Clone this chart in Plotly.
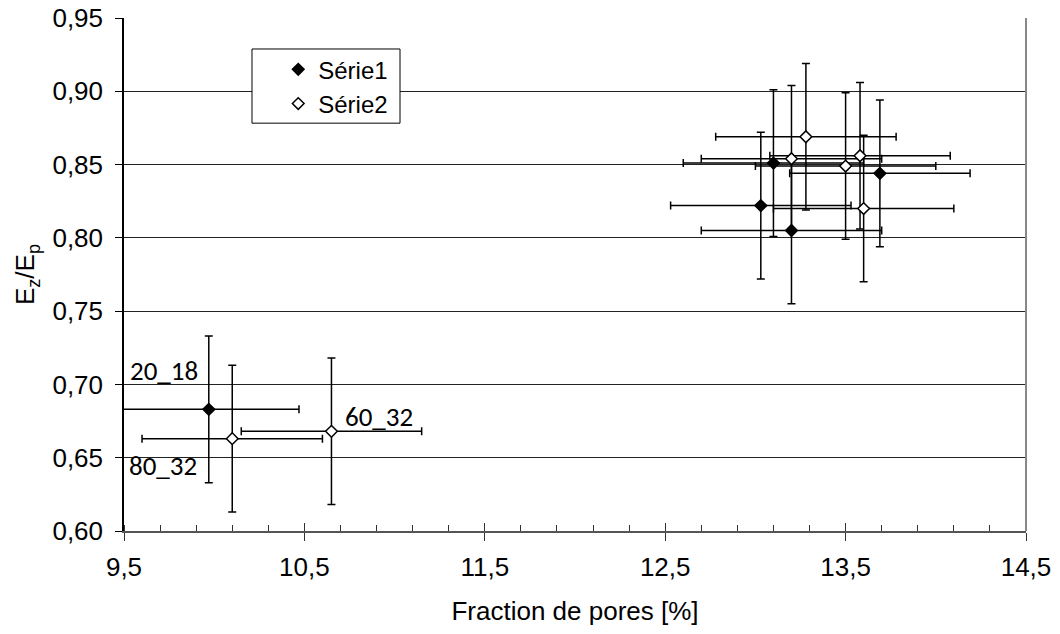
import plotly.graph_objects as go

# ---- data ----
s1_x = [9.97, 13.10, 13.20, 13.69, 13.03]
s1_y = [0.683, 0.851, 0.805, 0.844, 0.822]
s1_xerr = [0.5, 0.5, 0.5, 0.5, 0.5]
s1_yerr = [0.05, 0.05, 0.05, 0.05, 0.05]

s2_x = [10.10, 10.65, 13.28, 13.20, 13.50, 13.58, 13.60]
s2_y = [0.663, 0.668, 0.869, 0.854, 0.849, 0.856, 0.820]
s2_xerr = [0.5, 0.5, 0.5, 0.5, 0.5, 0.5, 0.5]
s2_yerr = [0.05, 0.05, 0.05, 0.05, 0.05, 0.05, 0.05]

series_names = ["Série1", "Série2"]
point_labels = ["20_18", "80_32", "60_32"]
label_series = [0, 1, 1]
label_index = [0, 0, 1]
label_shift = [(-45, 39), (-69, -27), (48, 15)]

x_ticks = [9.5, 10.5, 11.5, 12.5, 13.5, 14.5]
y_ticks = [0.60, 0.65, 0.70, 0.75, 0.80, 0.85, 0.90, 0.95]

FONT = "Liberation Sans, Arial, sans-serif"
FS = 26

fig = go.Figure()

def add_series(xs, ys, xe, ye, name, fill):
    fig.add_trace(go.Scatter(
        x=xs, y=ys, mode="markers", name=name,
        marker=dict(symbol="diamond", size=9, color=fill,
                    line=dict(color="black", width=1.5)),
        error_x=dict(type="data", array=xe, visible=True, color="black",
                     thickness=1.5, width=4),
        error_y=dict(type="data", array=ye, visible=True, color="black",
                     thickness=1.5, width=4),
    ))

add_series(s1_x, s1_y, s1_xerr, s1_yerr, series_names[0], "black")
add_series(s2_x, s2_y, s2_xerr, s2_yerr, series_names[1], "white")

# invisible trace on overlay axis to draw the inward half of the crossing x ticks
fig.add_trace(go.Scatter(x=[x_ticks[0]], y=[y_ticks[0]], xaxis="x2", yaxis="y",
                         mode="markers", marker=dict(opacity=0), showlegend=False,
                         hoverinfo="skip"))

series_data = [(s1_x, s1_y), (s2_x, s2_y)]
for lab, si, pi, (dx, dy) in zip(point_labels, label_series, label_index, label_shift):
    xs, ys = series_data[si]
    fig.add_annotation(x=xs[pi], y=ys[pi], text=lab, showarrow=False,
                       xshift=dx, yshift=dy,
                       font=dict(family="Carlito, Lato, sans-serif", size=27, color="black"))

fig.update_layout(
    width=1060, height=634,
    # page body has an 8px margin; compensate so the plot area sits where the reference has it
    margin=dict(l=116, r=42, t=10, b=111, autoexpand=False),
    paper_bgcolor="white", plot_bgcolor="white",
    separators=", ",
    font=dict(family=FONT, size=FS, color="black"),
    showlegend=True,
    legend=dict(x=0.171, y=0.943, xanchor="left", yanchor="top",
                bgcolor="rgba(0,0,0,0)", borderwidth=0,
                font=dict(family=FONT, size=24), itemwidth=30,
                tracegroupgap=0),
    xaxis=dict(range=[9.5, 14.5], tickvals=x_ticks, tickformat=".1f",
               showgrid=False, zeroline=False, automargin=False,
               showline=True, linecolor="#555555", linewidth=2,
               ticks="outside", ticklen=8, tickcolor="#333333", tickwidth=1,
               minor=dict(dtick=0.2, tick0=9.5, ticks="inside", ticklen=6,
                          tickcolor="#333333", tickwidth=1, showgrid=False),
               title=dict(text="Fraction de pores [%]", standoff=21,
                          font=dict(family=FONT, size=FS)),
               ticklabelstandoff=4, ticklabeloverflow="allow",
               tickfont=dict(family=FONT, size=FS)),
    xaxis2=dict(overlaying="x", matches="x", range=[9.5, 14.5], tickvals=x_ticks,
                showticklabels=False, showgrid=False, zeroline=False,
                showline=False, ticks="inside", ticklen=8, tickcolor="#333333",
                tickwidth=1, side="bottom", automargin=False),
    yaxis=dict(range=[0.60, 0.9500001], tickvals=y_ticks, tickformat=".2f",
               showgrid=True, gridcolor="#222222", gridwidth=1, automargin=False,
               zeroline=False, showline=True, linecolor="black", linewidth=1.5,
               ticks="outside", ticklen=7, tickcolor="black", tickwidth=1,
               ticklabelstandoff=7, ticklabeloverflow="allow",
               title=dict(text="E<sub>z</sub>/E<sub>p</sub>", standoff=10,
                          font=dict(family=FONT, size=FS)),
               tickfont=dict(family=FONT, size=FS)),
    shapes=[
        dict(type="line", xref="paper", yref="paper", x0=1, x1=1, y0=0, y1=1,
             line=dict(color="#888888", width=2)),
        dict(type="rect", xref="paper", yref="paper", x0=0.1419, x1=0.306,
             y0=0.795, y1=0.9396, fillcolor="white", layer="above",
             line=dict(color="black", width=1)),
    ],
)

fig.write_html("out.html")
